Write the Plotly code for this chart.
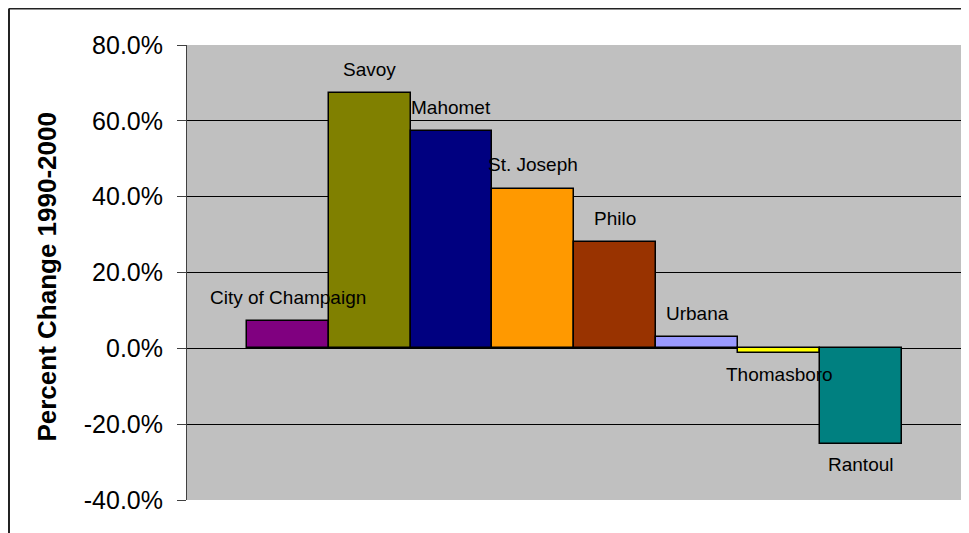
import plotly.graph_objects as go

cities = ["City of Champaign", "Savoy", "Mahomet", "St. Joseph", "Philo",
          "Urbana", "Thomasboro", "Rantoul"]
pct_change = [0.071, 0.673, 0.573, 0.421, 0.280, 0.029, -0.013, -0.251]
bar_colors = ["#800080", "#808000", "#000080", "#FF9900", "#993300",
              "#9999FF", "#FFFF00", "#008080"]
tick_values = [-0.4, -0.2, 0.0, 0.2, 0.4, 0.6, 0.8]
tick_labels = ["-40.0%", "-20.0%", "0.0%", "20.0%", "40.0%", "60.0%", "80.0%"]
y_title = "Percent Change 1990-2000"

FONT = "Liberation Sans, Arial, sans-serif"

fig = go.Figure()
fig.add_trace(go.Bar(
    x=list(range(len(cities))),
    y=pct_change,
    width=1.0,
    marker=dict(color=bar_colors, line=dict(color="black", width=1.5)),
    hovertext=cities,
    showlegend=False,
))

annotations = []
for i, (name, v) in enumerate(zip(cities, pct_change)):
    annotations.append(dict(
        x=i, y=v, xref="x", yref="y", text=name, showarrow=False,
        yanchor="middle", xanchor="center",
        yshift=24 if v >= 0 else -21,
        font=dict(family=FONT, size=19, color="black"),
    ))
annotations.append(dict(
    x=-0.1802, y=0.491, xref="paper", yref="paper", text="<b>%s</b>" % y_title,
    showarrow=False, textangle=-90, xanchor="center", yanchor="middle",
    font=dict(family=FONT, size=26, color="black"),
))

fig.update_layout(
    width=961, height=525,
    margin=dict(l=179, r=5, t=37, b=33, pad=0),
    paper_bgcolor="white",
    plot_bgcolor="#C0C0C0",
    bargap=0,
    annotations=annotations,
    xaxis=dict(range=[-1.229, 8.257], showticklabels=False, showgrid=False,
               zeroline=False, ticks="", showline=False, fixedrange=True),
    yaxis=dict(range=[-0.4, 0.8], tickvals=tick_values, ticktext=tick_labels,
               showgrid=True, gridcolor="#000000", gridwidth=1,
               zeroline=True, zerolinecolor="#000000", zerolinewidth=1,
               showline=True, linecolor="#404040", linewidth=1,
               ticks="outside", ticklen=9, tickcolor="#404040",
               ticklabelstandoff=9,
               tickfont=dict(family=FONT, size=25, color="black"),
               fixedrange=True),
    shapes=[
        dict(type="line", xref="paper", yref="paper",
             x0=-0.2291, x1=1.2, y0=1.0802, y1=1.0802,
             line=dict(color="#222222", width=2)),
        dict(type="line", xref="paper", yref="paper",
             x0=-0.2291, x1=-0.2291, y0=-0.2, y1=1.0802,
             line=dict(color="#222222", width=2)),
    ],
)

fig.write_html("out.html")
